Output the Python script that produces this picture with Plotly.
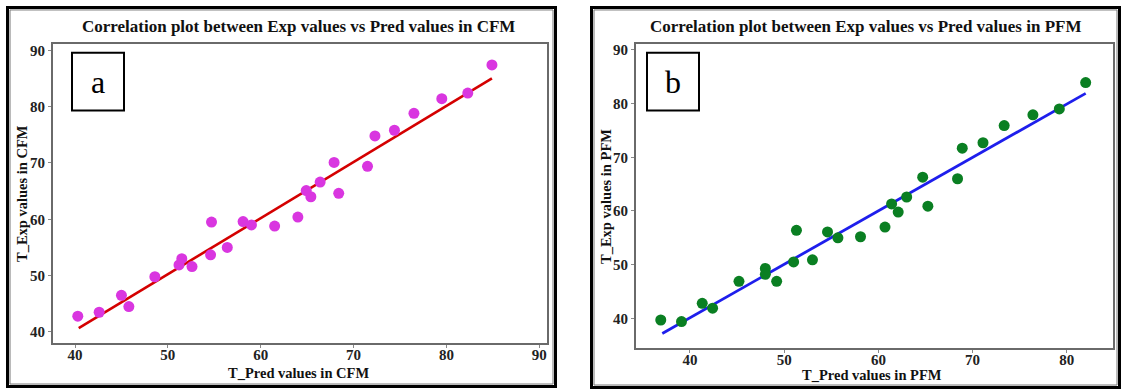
import plotly.graph_objects as go

W, H = 1121, 389

# ---- Data: panel a (CFM) ----
cfm_pred = [40.3, 42.6, 45.0, 45.8, 48.6, 51.2, 51.5, 52.6, 54.6, 54.7, 56.4, 58.1, 59.0, 61.5,
            64.0, 64.9, 65.4, 66.4, 67.9, 68.4, 71.5, 72.3, 74.4, 76.5, 79.5, 82.3, 84.9]
cfm_exp = [42.8, 43.5, 46.5, 44.5, 49.8, 51.9, 53.0, 51.6, 53.7, 59.5, 55.0, 59.6, 59.0, 58.8,
           60.4, 65.1, 64.0, 66.6, 70.1, 64.6, 69.4, 74.8, 75.8, 78.8, 81.4, 82.4, 87.4]
cfm_fit_x = [40.4, 84.9]
cfm_fit_y = [40.7, 85.0]

# ---- Data: panel b (PFM) ----
pfm_pred = [36.9, 39.1, 41.3, 42.4, 45.2, 48.0, 48.0, 49.2, 51.0, 51.3, 53.0, 54.6, 55.7, 58.1,
            60.7, 61.4, 62.1, 63.0, 64.7, 65.25, 68.4, 68.9, 71.1, 73.35, 76.4, 79.2, 82.0]
pfm_exp = [39.7, 39.4, 42.8, 41.9, 46.9, 49.3, 48.2, 46.9, 50.5, 56.4, 50.9, 56.1, 55.0, 55.2,
           57.0, 61.3, 59.8, 62.6, 66.3, 60.9, 66.0, 71.7, 72.7, 75.9, 77.9, 79.0, 83.9]
pfm_fit_x = [37.06, 82.0]
pfm_fit_y = [37.2, 81.9]

ticks_a_x = [40, 50, 60, 70, 80, 90]
ticks_a_y = [40, 50, 60, 70, 80, 90]
ticks_b_x = [40, 50, 60, 70, 80]
ticks_b_y = [40, 50, 60, 70, 80, 90]

titles = ["Correlation plot between Exp values vs Pred values in CFM",
          "Correlation plot between Exp values vs Pred values in PFM"]
xtitles = ["T_Pred values in CFM", "T_Pred values in PFM"]
ytitles = ["T_Exp values in CFM", "T_Exp values in PFM"]
panel_labels = ["a", "b"]

SERIF = "Liberation Serif, Times New Roman, serif"


def px(x):
    return x / W


def py(y):
    return 1 - y / H


fig = go.Figure()
fig.add_trace(go.Scatter(x=cfm_fit_x, y=cfm_fit_y, mode="lines",
                         line=dict(color="#d40000", width=2.6), xaxis="x", yaxis="y",
                         showlegend=False))
fig.add_trace(go.Scatter(x=cfm_pred, y=cfm_exp, mode="markers",
                         marker=dict(color="#d936e0", size=11), xaxis="x", yaxis="y",
                         showlegend=False))
fig.add_trace(go.Scatter(x=pfm_fit_x, y=pfm_fit_y, mode="lines",
                         line=dict(color="#1e1eec", width=2.8), xaxis="x2", yaxis="y2",
                         showlegend=False))
fig.add_trace(go.Scatter(x=pfm_pred, y=pfm_exp, mode="markers",
                         marker=dict(color="#0a7f22", size=11), xaxis="x2", yaxis="y2",
                         showlegend=False))

tickfont = dict(family=SERIF, size=15, color="#222", weight="bold")
axcommon = dict(showgrid=False, zeroline=False, showline=True, mirror=True,
                linecolor="#6a6a6a", linewidth=2, ticks="outside", ticklen=3,
                tickcolor="#888", tickwidth=1, tickfont=tickfont)
xextra = dict(ticklabelstandoff=-6)

fig.update_layout(
    width=W, height=H, margin=dict(l=0, r=0, t=0, b=0),
    paper_bgcolor="white", plot_bgcolor="white",
    xaxis=dict(domain=[px(53), px(547)], range=[37.63, 90.83], tickvals=ticks_a_x,
               anchor="y", **axcommon, **xextra),
    yaxis=dict(domain=[py(343), py(42)], range=[38.0, 91.15], tickvals=ticks_a_y,
               anchor="x", **axcommon),
    xaxis2=dict(domain=[px(636), px(1113)], range=[34.27, 84.9], tickvals=ticks_b_x,
                anchor="y2", **axcommon, **xextra),
    yaxis2=dict(domain=[py(347.7), py(42.7)], range=[34.5, 91.0], tickvals=ticks_b_y,
                anchor="x2", **axcommon),
)

shapes = []
# outer frames
for (x0, x1, y0, y1) in [(7.5, 555.5, 5.5, 386.5), (591.5, 1119.5, 5.5, 387.5)]:
    shapes.append(dict(type="rect", xref="paper", yref="paper", x0=px(x0), x1=px(x1),
                       y0=py(y1), y1=py(y0), line=dict(color="black", width=3)))
    shapes.append(dict(type="rect", xref="paper", yref="paper", x0=px(x0 + 2.5), x1=px(x1 - 2.5),
                       y0=py(y1 - 2.5), y1=py(y0 + 2.5), line=dict(color="#777", width=1)))
# panel label boxes
for (x0, x1) in [(72, 124), (647, 699)]:
    shapes.append(dict(type="rect", xref="paper", yref="paper", x0=px(x0), x1=px(x1),
                       y0=py(109), y1=py(51), line=dict(color="black", width=2),
                       fillcolor="white"))
fig.update_layout(shapes=shapes)

ann = []
bold = dict(family=SERIF, color="#111", weight="bold")
for cx, t in zip([299, 866], titles):
    ann.append(dict(x=px(cx), y=py(25), xref="paper", yref="paper", text=t, showarrow=False,
                    xanchor="center", yanchor="middle", font=dict(size=17, **bold)))
for cx, cy, t in zip([299, 872], [373, 375], xtitles):
    ann.append(dict(x=px(cx), y=py(cy), xref="paper", yref="paper", text=t, showarrow=False,
                    xanchor="center", yanchor="middle", font=dict(size=14.5, **bold)))
for cx, cy, t in zip([22, 606], [193, 196], ytitles):
    ann.append(dict(x=px(cx), y=py(cy), xref="paper", yref="paper", text=t, showarrow=False,
                    textangle=-90, xanchor="center", yanchor="middle",
                    font=dict(size=14.5, **bold)))
for cx, t in zip([98, 673], panel_labels):
    ann.append(dict(x=px(cx), y=py(80), xref="paper", yref="paper", text=t, showarrow=False,
                    xanchor="center", yanchor="middle",
                    font=dict(family=SERIF, size=32, color="black")))
fig.update_layout(annotations=ann)

fig.write_html("out.html")
